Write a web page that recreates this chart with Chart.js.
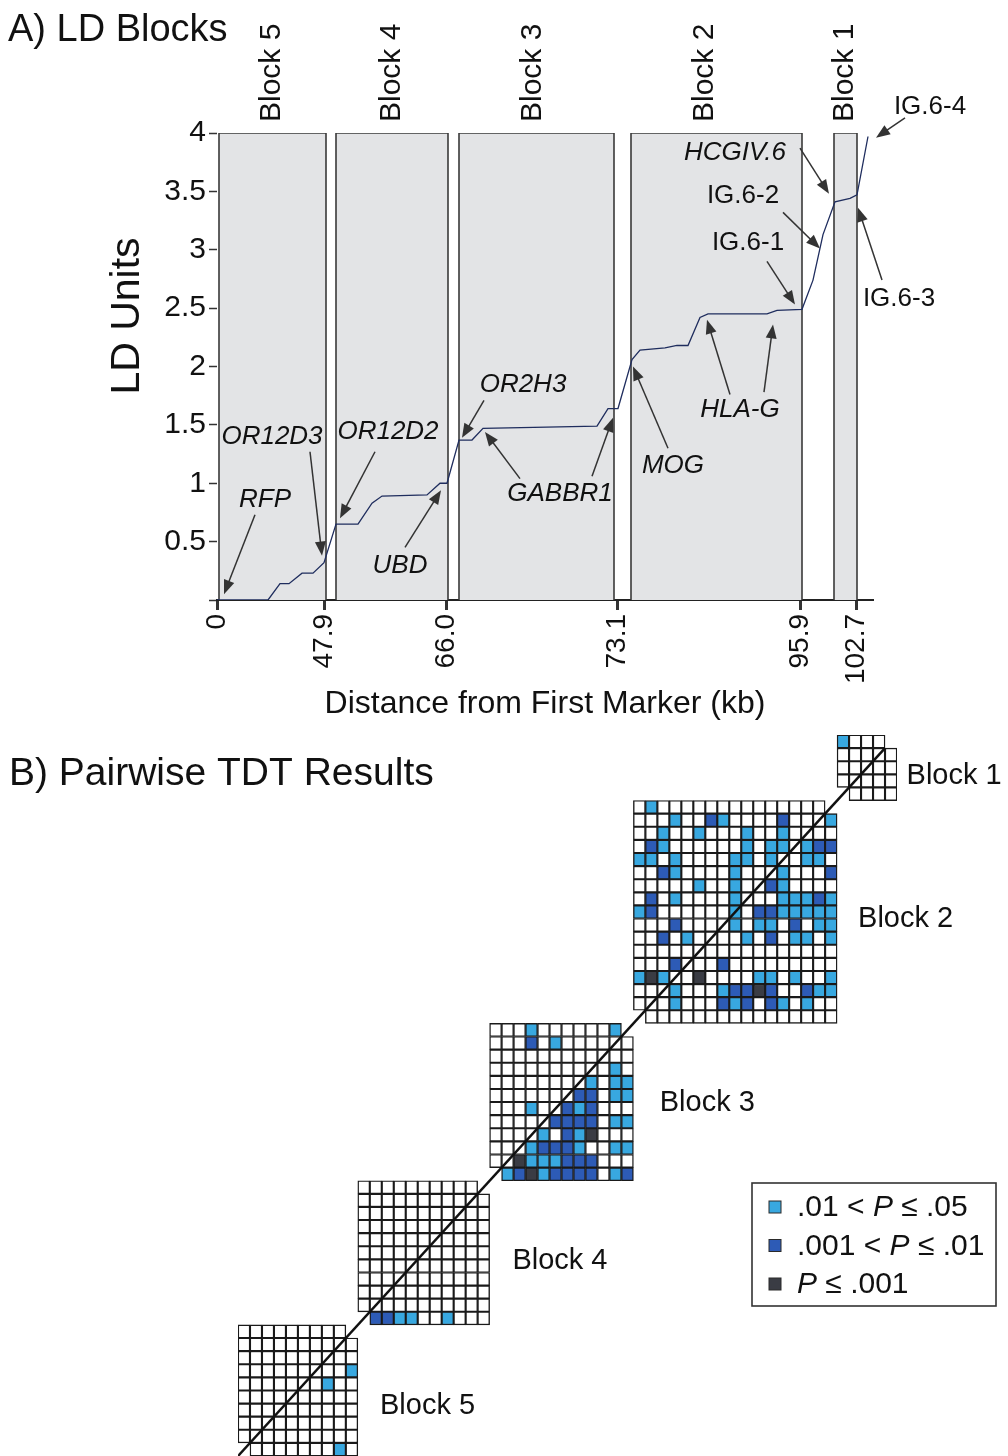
<!DOCTYPE html>
<html>
<head>
<meta charset="utf-8">
<script src="https://cdn.jsdelivr.net/npm/chart.js@4.4.0/dist/chart.umd.min.js"></script>
<style>
  html, body { margin: 0; padding: 0; background: #fff; }
  #wrap { position: relative; width: 1008px; height: 1456px; overflow: hidden; }
  #ldChart { position: absolute; left: 0; top: 0; }
  #tdtChart { position: absolute; left: 0; top: 720px; }
</style>
</head>
<body>
<div id="wrap">
  <canvas id="ldChart" width="1008" height="720"></canvas>
  <canvas id="tdtChart" width="1008" height="736"></canvas>
</div>
<script>
var FONT = '"Liberation Sans", Arial, Helvetica, sans-serif';

// ---- panel A: LD map ----
// x = position along the map axis, y = cumulative LD units
var ldX = [0, 5.1, 6.3, 7.2, 8.5, 9.6, 10.7, 11.9, 14.1, 15.5, 16.5, 21.0, 22.3, 23.0, 24.2, 25.5, 26.6, 38.0,
  39.1, 40.1, 41.5, 42.3, 44.8, 46.0, 47.1, 48.3, 49.1, 55.0, 56.0, 58.5, 59.6, 60.6, 61.8, 63.3, 64.0, 65.1];
var ldY = [0, 0, 0.14, 0.14, 0.23, 0.23, 0.32, 0.65, 0.65, 0.83, 0.89, 0.90, 1.0, 1.0, 1.37, 1.37, 1.47, 1.49,
  1.64, 1.64, 2.06, 2.14, 2.16, 2.18, 2.18, 2.42, 2.45, 2.45, 2.48, 2.49, 2.74, 3.13, 3.41, 3.44, 3.47, 3.97];

var blockNames = ["Block 5", "Block 4", "Block 3", "Block 2", "Block 1"];
var blockStart = [0.2, 11.9, 24.2, 41.4, 61.7];
var blockEnd = [10.9, 23.1, 39.7, 58.5, 64.0];
var blockLabelX = [5.5, 17.5, 31.6, 48.8, 62.8];
var ldTop = 4;

var tickPos = [0, 10.7, 22.9, 40.0, 58.3, 63.9];
var tickLabels = ["0", "47.9", "66.0", "73.1", "95.9", "102.7"];

var geneNames = ["RFP", "OR12D3", "OR12D2", "UBD", "OR2H3", "GABBR1", "MOG", "HLA-G", "IG.6-1", "IG.6-2", "HCGIV.6", "IG.6-3", "IG.6-4"];
var geneX = [4.8, 5.5, 17.1, 18.3, 30.6, 34.3, 45.6, 52.3, 53.1, 52.6, 51.8, 68.2, 71.3];
var geneY = [0.86, 1.40, 1.44, 0.29, 1.84, 0.91, 1.15, 1.63, 3.06, 3.46, 3.83, 2.58, 4.22];
var geneItalic = [true, true, true, true, true, true, true, true, false, false, true, false, false];
// arrows: [fromX, fromY, toX, toY]
var arrows = [
  [3.8, 0.73, 0.7, 0.05],
  [9.3, 1.27, 10.5, 0.38],
  [15.8, 1.27, 12.3, 0.70],
  [18.8, 0.45, 22.4, 0.94],
  [26.7, 1.71, 24.5, 1.39],
  [30.3, 1.04, 26.8, 1.44],
  [37.5, 1.06, 39.6, 1.56],
  [45.1, 1.30, 41.6, 2.0],
  [51.3, 1.76, 49.0, 2.40],
  [54.7, 1.78, 55.6, 2.36],
  [55.0, 2.90, 57.8, 2.53],
  [56.6, 3.32, 60.3, 3.01],
  [58.3, 3.87, 61.2, 3.48],
  [66.5, 2.74, 64.1, 3.36],
  [68.8, 4.13, 65.9, 3.96]
];

// ---- panel B: pairwise TDT grids, 0 = n.s., 1 = .01<P<=.05, 2 = .001<P<=.01, 3 = P<=.001 ----
var tdt5 = [
  "000000000.",
  "0000000000",
  "0000000000",
  "0000000001",
  "0000000100",
  "0000000000",
  "0000000000",
  "0000000000",
  "0000000000",
  ".000000010"
];
var tdt4 = [
  "0000000000.",
  "00000000000",
  "00000000000",
  "00000000000",
  "00000000000",
  "00000000000",
  "00000000000",
  "00000000000",
  "00000000000",
  "00000000000",
  ".2211001000"
];
var tdt3 = [
  "00010000001.",
  "000201000000",
  "000000000000",
  "000000000010",
  "000000001011",
  "000000022011",
  "000100212000",
  "000002222011",
  "000010213000",
  "000122210011",
  "003111222000",
  ".12312222012"
];
var tdt2 = [
  "0100000000000000.",
  "00010021000020001",
  "00100100010010000",
  "02100000010110122",
  "11010000110100110",
  "00210000100010002",
  "00000100100210000",
  "02010000100011121",
  "12000000102211111",
  "00020000101102011",
  "00201000010201101",
  "00000000000000000",
  "00020002000000000",
  "13100300001101001",
  "00010001223200211",
  "00010002120210100",
  ".0000000000000000"
];
var tdt1 = [
  "1000.",
  "00000",
  "00000",
  "00000",
  ".0000"
];
var tdtGrids = [tdt5, tdt4, tdt3, tdt2, tdt1];
var tdtLabelX = [11.85, 22.9, 35.2, 51.75, 55.8];
var tdtLabelY = [3.8, 14.9, 26.9, 40.96, 51.9];
var levelColors = ["#ffffff", "#38a8e0", "#2d5bb6", "#3a3c44"];
var legendLabels = [[".01 < ", "P", " \u2264 .05"], [".001 < ", "P", " \u2264 .01"], ["", "P", " \u2264 .001"]];

// ---------- panel A chart ----------
function drawArrow(ctx, x0, y0, x1, y1) {
  var a = Math.atan2(y1 - y0, x1 - x0), L = 14, W = 5.5;
  var c = Math.cos(a), s = Math.sin(a);
  ctx.beginPath();
  ctx.moveTo(x0, y0);
  ctx.lineTo(x1 - L * 0.7 * c, y1 - L * 0.7 * s);
  ctx.stroke();
  ctx.beginPath();
  ctx.moveTo(x1, y1);
  ctx.lineTo(x1 - L * c + W * s, y1 - L * s - W * c);
  ctx.lineTo(x1 - L * c - W * s, y1 - L * s + W * c);
  ctx.closePath();
  ctx.fill();
}

var ldDecor = {
  id: "ldDecor",
  afterDraw: function (chart) {
    var ctx = chart.ctx, xs = chart.scales.x, ys = chart.scales.y;
    ctx.save();
    ctx.fillStyle = "#111";
    ctx.strokeStyle = "#333";
    ctx.lineWidth = 1.5;

    ctx.font = "38px " + FONT;
    ctx.textBaseline = "alphabetic";
    ctx.textAlign = "left";
    ctx.fillText("A) LD Blocks", 8, 41);

    // y axis title
    ctx.save();
    ctx.translate(128, 316);
    ctx.rotate(-Math.PI / 2);
    ctx.font = "41px " + FONT;
    ctx.textAlign = "center";
    ctx.textBaseline = "middle";
    ctx.fillText("LD Units", 0, 0);
    ctx.restore();

    // block names above the boxes
    ctx.font = "30px " + FONT;
    blockNames.forEach(function (name, i) {
      ctx.save();
      ctx.translate(xs.getPixelForValue(blockLabelX[i]), 122);
      ctx.rotate(-Math.PI / 2);
      ctx.textAlign = "left";
      ctx.textBaseline = "middle";
      ctx.fillText(name, 0, 0);
      ctx.restore();
    });

    // gene labels and arrows
    ctx.textAlign = "center";
    ctx.textBaseline = "middle";
    geneNames.forEach(function (g, i) {
      ctx.font = (geneItalic[i] ? "italic " : "") + "26px " + FONT;
      ctx.fillText(g, xs.getPixelForValue(geneX[i]), ys.getPixelForValue(geneY[i]));
    });
    ctx.fillStyle = "#333";
    arrows.forEach(function (a) {
      drawArrow(ctx, xs.getPixelForValue(a[0]), ys.getPixelForValue(a[1]),
        xs.getPixelForValue(a[2]), ys.getPixelForValue(a[3]));
    });
    ctx.restore();
  }
};

var ldDatasets = [{
  label: "LD",
  data: ldX.map(function (x, i) { return { x: x, y: ldY[i] }; }),
  borderColor: "#1f2d5e",
  borderWidth: 1.3,
  pointRadius: 0,
  fill: false,
  tension: 0
}];
blockStart.forEach(function (s, i) {
  ldDatasets.push({
    label: blockNames[i],
    data: [{ x: s, y: 0 }, { x: s, y: ldTop }, { x: blockEnd[i], y: ldTop }, { x: blockEnd[i], y: 0 }],
    borderColor: "#3a3a3a",
    borderWidth: 1.6,
    backgroundColor: "#e3e4e6",
    fill: "origin",
    pointRadius: 0,
    tension: 0
  });
});

new Chart(document.getElementById("ldChart"), {
  type: "line",
  data: { datasets: ldDatasets },
  options: {
    responsive: false,
    animation: false,
    layout: { padding: { left: 104, right: 135, top: 133, bottom: 0 } },
    plugins: { legend: { display: false }, tooltip: { enabled: false } },
    scales: {
      x: {
        type: "linear",
        min: 0,
        max: 65.6,
        afterBuildTicks: function (s) {
          s.ticks = tickPos.map(function (v) { return { value: v }; });
        },
        afterFit: function (s) { s.height = 120; },
        ticks: {
          autoSkip: false,
          minRotation: 90,
          maxRotation: 90,
          padding: 4,
          color: "#111",
          font: { family: FONT, size: 28 },
          callback: function (v, i) { return tickLabels[i]; }
        },
        grid: { drawOnChartArea: false, drawTicks: true, tickLength: 10, tickWidth: 3, tickColor: "#333" },
        border: { display: true, color: "#222", width: 2 },
        title: {
          display: true,
          text: "Distance from First Marker (kb)",
          color: "#111",
          font: { family: FONT, size: 32, lineHeight: 1 },
          padding: { top: 0, bottom: 0 }
        }
      },
      y: {
        min: 0,
        max: 4,
        afterFit: function (s) { s.width = 113; },
        ticks: {
          stepSize: 0.5,
          padding: 3,
          color: "#111",
          font: { family: FONT, size: 30 },
          callback: function (v) { return v === 0 ? "" : v; }
        },
        grid: { drawOnChartArea: false, tickLength: 8, tickWidth: 1.5, tickColor: "#333" },
        border: { display: false }
      }
    }
  },
  plugins: [ldDecor]
});

// ---------- panel B chart ----------
var cells = [], cellColors = [];
var off = 0;
tdtGrids.forEach(function (rows) {
  var n = rows.length;
  rows.forEach(function (row, r) {
    for (var c = 0; c < row.length; c++) {
      if (row[c] === ".") continue;
      cells.push({ x: off + c + 0.5, y: [off + n - r - 1, off + n - r] });
      cellColors.push(levelColors[+row[c]]);
    }
  });
  off += n;
});

var tdtDecor = {
  id: "tdtDecor",
  afterDraw: function (chart) {
    var ctx = chart.ctx, xs = chart.scales.x, ys = chart.scales.y;
    ctx.save();
    ctx.fillStyle = "#111";
    ctx.font = "39px " + FONT;
    ctx.textAlign = "left";
    ctx.textBaseline = "alphabetic";
    ctx.fillText("B) Pairwise TDT Results", 9, 65);

    ctx.font = "29px " + FONT;
    ctx.textBaseline = "middle";
    blockNames.forEach(function (name, i) {
      ctx.fillText(name, xs.getPixelForValue(tdtLabelX[i]), ys.getPixelForValue(tdtLabelY[i]));
    });

    // legend box
    ctx.strokeStyle = "#333";
    ctx.lineWidth = 1.6;
    ctx.strokeRect(752, 463, 244, 123);
    legendLabels.forEach(function (parts, i) {
      var cy = 487 + i * 38.5;
      ctx.fillStyle = levelColors[i + 1];
      ctx.fillRect(769, cy - 6, 12, 12);
      ctx.lineWidth = 1;
      ctx.strokeStyle = "#2a2a2a";
      ctx.strokeRect(769, cy - 6, 12, 12);
      ctx.fillStyle = "#111";
      var x = 797;
      parts.forEach(function (p, k) {
        ctx.font = (k === 1 ? "italic " : "") + "30px " + FONT;
        ctx.fillText(p, x, cy + 1);
        x += ctx.measureText(p).width;
      });
    });
    ctx.restore();
  }
};

new Chart(document.getElementById("tdtChart"), {
  type: "bar",
  data: {
    datasets: [
      {
        type: "line",
        label: "diagonal",
        data: [{ x: -0.5, y: -0.5 }, { x: 54, y: 54 }],
        borderColor: "#111",
        borderWidth: 2.5,
        pointRadius: 0,
        order: 0
      },
      {
        label: "TDT",
        data: cells,
        backgroundColor: cellColors,
        borderColor: "#1a1a1a",
        borderWidth: 1.4,
        borderSkipped: false,
        categoryPercentage: 1,
        barPercentage: 1,
        order: 1
      }
    ]
  },
  options: {
    responsive: false,
    animation: false,
    layout: { padding: { left: 238, right: 111, top: 15, bottom: 0 } },
    plugins: { legend: { display: false }, tooltip: { enabled: false } },
    scales: {
      x: { type: "linear", min: 0, max: 55, offset: false, display: false, ticks: { stepSize: 1 } },
      y: { type: "linear", min: 0, max: 55, display: false, ticks: { stepSize: 1 } }
    }
  },
  plugins: [tdtDecor]
});
</script>
</body>
</html>
